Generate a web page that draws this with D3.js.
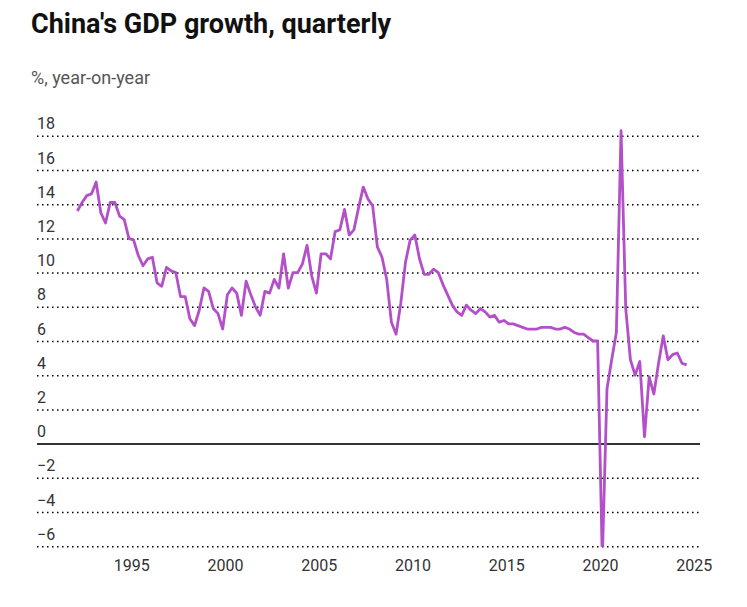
<!DOCTYPE html>
<html>
<head>
<meta charset="utf-8">
<script src="https://cdn.jsdelivr.net/npm/d3@7"></script>
<style>
  html, body { margin: 0; padding: 0; background: #fff; }
  svg { display: block; font-family: Roboto, "Noto Sans", sans-serif; }
</style>
</head>
<body>
<svg id="chart" width="747" height="607"></svg>
<script>
// ---- Data ----
const years = [1992,1993,1994,1995,1996,1997,1998,1999,2000,2001,2002,2003,2004,2005,2006,2007,2008,2009,2010,2011,2012,2013,2014,2015,2016,2017,2018,2019,2020,2021,2022,2023,2024];
const quarterNames = ["Q1","Q2","Q3","Q4"];
// Real GDP growth, % year-on-year, quarterly from 1992 Q1 to 2024 Q3
const growth = [
  13.6, 14.1, 14.5, 14.6,
  15.3, 13.5, 12.9, 14.1,
  14.1, 13.3, 13.1, 12.0,
  11.9, 11.0, 10.4, 10.8,
  10.9,  9.4,  9.2, 10.3,
  10.1, 10.0,  8.6,  8.6,
   7.3,  6.9,  7.8,  9.1,
   8.9,  7.9,  7.6,  6.7,
   8.7,  9.1,  8.8,  7.5,
   9.5,  8.7,  8.0,  7.5,
   8.9,  8.8,  9.6,  9.1,
  11.1,  9.1, 10.0, 10.0,
  10.5, 11.6,  9.8,  8.8,
  11.1, 11.1, 10.8, 12.4,
  12.5, 13.7, 12.2, 12.5,
  13.8, 15.0, 14.3, 13.9,
  11.5, 10.9,  9.6,  7.1,
   6.4,  8.2, 10.6, 11.9,
  12.2, 10.8,  9.9,  9.9,
  10.2, 10.0,  9.3,  8.7,
   8.1,  7.7,  7.5,  8.1,
   7.8,  7.6,  7.9,  7.7,
   7.4,  7.5,  7.1,  7.2,
   7.0,  7.0,  6.9,  6.8,
   6.7,  6.7,  6.7,  6.8,
   6.8,  6.8,  6.7,  6.7,
   6.8,  6.7,  6.5,  6.4,
   6.4,  6.2,  6.0,  6.0,
  -6.8,  3.2,  4.9,  6.5,
  18.3,  7.9,  4.9,  4.0,
   4.8,  0.4,  3.9,  2.9,
   4.7,  6.3,  4.9,  5.2,
   5.3,  4.7,  4.6
];
const yTicks = [-6,-4,-2,0,2,4,6,8,10,12,14,16,18];
const xTicks = [1995,2000,2005,2010,2015,2020,2025];

const title = "China's GDP growth, quarterly";
const subtitle = "%, year-on-year";

// Build records (quarter plotted at mid-quarter)
const records = [];
years.forEach((yr, yi) => {
  quarterNames.forEach((qn, qi) => {
    const i = yi * 4 + qi;
    if (i < growth.length) records.push({ label: yr + " " + qn, t: yr + qi / 4 + 0.125, v: growth[i] });
  });
});

// ---- Layout ----
const svg = d3.select("#chart");
const left = 37, right = 700;

const x = d3.scaleLinear().domain([1990, 2025]).range([37.55, 693.7]);
const y = d3.scaleLinear().domain([-6, 18]).range([546.2, 135.8]);

// Title & subtitle
svg.append("text").attr("x", 31).attr("y", 33)
  .attr("font-size", 27).attr("font-weight", 700).attr("fill", "#111")
  .text(title);
svg.append("text").attr("x", 31).attr("y", 84)
  .attr("font-size", 18).attr("fill", "#555")
  .text(subtitle);

// Y axis: gridlines + labels
const yAxis = d3.axisRight(y).tickValues(yTicks).tickSize(right - left).tickFormat(d => d < 0 ? "\u2212" + Math.abs(d) : d);
const gy = svg.append("g").attr("transform", `translate(${left},0)`).call(yAxis);
gy.select(".domain").remove();
gy.selectAll(".tick line")
  .attr("stroke", d => d === 0 ? "#333" : "#000")
  .attr("stroke-width", d => d === 0 ? 2 : 1.5)
  .attr("stroke-dasharray", d => d === 0 ? null : "1.5,3.5");
gy.selectAll(".tick text")
  .attr("x", 0).attr("dy", 0).attr("y", -7)
  .attr("text-anchor", "start")
  .attr("font-family", "Roboto, sans-serif")
  .attr("font-size", 16).attr("fill", "#333");

// X axis labels
const xAxis = d3.axisBottom(x).tickValues(xTicks).tickFormat(d3.format("d")).tickSize(0);
const gx = svg.append("g").attr("transform", "translate(0,571)").call(xAxis);
gx.select(".domain").remove();
gx.selectAll(".tick text")
  .attr("y", 0).attr("dy", 0)
  .attr("font-family", "Roboto, sans-serif")
  .attr("font-size", 16).attr("fill", "#333");

// Clip for line (cut at bottom of plot)
svg.append("defs").append("clipPath").attr("id", "plotclip")
  .append("rect").attr("x", left).attr("y", 100).attr("width", right - left).attr("height", 546.7 - 100);

const line = d3.line().x(d => x(d.t)).y(d => y(d.v));
svg.append("path")
  .datum(records)
  .attr("clip-path", "url(#plotclip)")
  .attr("fill", "none")
  .attr("stroke", "#b34fc9")
  .attr("stroke-width", 2.8)
  .attr("stroke-linejoin", "round")
  .attr("d", line);
</script>
</body>
</html>
